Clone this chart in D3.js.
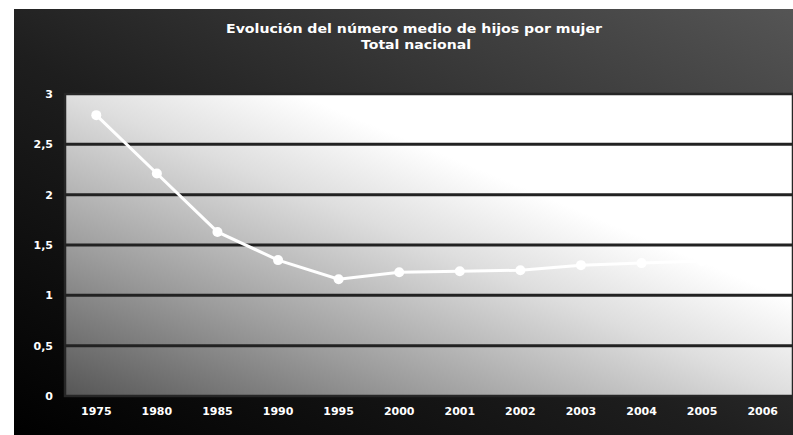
<!DOCTYPE html>
<html>
<head>
<meta charset="utf-8">
<script src="https://cdn.jsdelivr.net/npm/d3@7"></script>
<style>
  html, body { margin: 0; padding: 0; background: #ffffff; }
  svg { display: block; }
</style>
</head>
<body>
<script>
const titleLines = ["Evolución del número medio de hijos por mujer", "Total nacional"];
const years = ["1975", "1980", "1985", "1990", "1995", "2000", "2001", "2002", "2003", "2004", "2005", "2006"];
const hijos = [2.79, 2.21, 1.63, 1.35, 1.16, 1.23, 1.24, 1.25, 1.30, 1.32, 1.34, 1.37];
const yTicks = [0, 0.5, 1, 1.5, 2, 2.5, 3];
const yTickLabels = ["0", "0,5", "1", "1,5", "2", "2,5", "3"];

const W = 793, H = 435;
const svg = d3.select("body").append("svg").attr("width", W).attr("height", H);
const defs = svg.append("defs");

const bg = defs.append("linearGradient").attr("id", "bgGrad")
  .attr("x1", 0).attr("y1", 1).attr("x2", 1).attr("y2", 0);
bg.append("stop").attr("offset", 0).attr("stop-color", "#000000");
bg.append("stop").attr("offset", 0.45).attr("stop-color", "#1e1e1e");
bg.append("stop").attr("offset", 1).attr("stop-color", "#555555");

const pg = defs.append("linearGradient").attr("id", "plotGrad")
  .attr("x1", 0).attr("y1", 1).attr("x2", 1).attr("y2", 0);
pg.append("stop").attr("offset", 0).attr("stop-color", "#565656");
pg.append("stop").attr("offset", 0.25).attr("stop-color", "#9c9c9c");
pg.append("stop").attr("offset", 0.5).attr("stop-color", "#dedede");
pg.append("stop").attr("offset", 0.66).attr("stop-color", "#ffffff");
pg.append("stop").attr("offset", 1).attr("stop-color", "#ffffff");

const blur = defs.append("filter").attr("id", "soft").attr("x", "-10%").attr("y", "-10%").attr("width", "120%").attr("height", "120%");
blur.append("feGaussianBlur").attr("stdDeviation", 0.7);

// chart background
svg.append("rect").attr("x", 14).attr("y", 9).attr("width", W - 14).attr("height", H - 9)
  .attr("fill", "url(#bgGrad)");

const plot = { left: 65, right: 793, top: 94, bottom: 396 };
const x = d3.scaleBand().domain(years).range([plot.left + 1, plot.right]);
const y = d3.scaleLinear().domain([0, 3]).range([plot.bottom, plot.top]);

// plot area
svg.append("rect").attr("x", plot.left).attr("y", plot.top)
  .attr("width", plot.right - plot.left).attr("height", plot.bottom - plot.top)
  .attr("fill", "url(#plotGrad)")
  .attr("stroke", "#262626").attr("stroke-width", 2.5);

// gridlines
svg.append("g").attr("filter", "url(#soft)")
  .selectAll("line").data(yTicks.filter(d => d > 0 && d < 3)).join("line")
  .attr("x1", plot.left).attr("x2", plot.right)
  .attr("y1", d => y(d)).attr("y2", d => y(d))
  .attr("stroke", "#232323").attr("stroke-width", 3);

// Y axis labels
const yAxis = d3.axisLeft(y).tickValues(yTicks)
  .tickFormat((d, i) => yTickLabels[i]).tickSize(0).tickPadding(0);
const gy = svg.append("g").attr("transform", `translate(${53},0)`).call(yAxis);
gy.select(".domain").remove();
gy.selectAll("text").attr("fill", "#ffffff")
  .style("font-family", "'DejaVu Sans', sans-serif").style("font-weight", "bold").style("font-size", "11px");

// X axis labels
const xAxis = d3.axisBottom(x).tickSize(0).tickPadding(0);
const gx = svg.append("g").attr("transform", `translate(0,${407})`).call(xAxis);
gx.select(".domain").remove();
gx.selectAll("text").attr("fill", "#ffffff")
  .style("font-family", "'DejaVu Sans', sans-serif").style("font-weight", "bold").style("font-size", "11px");

// line
const pts = years.map((yr, i) => ({ yr, v: hijos[i] }));
const line = d3.line().x(d => x(d.yr) + x.bandwidth() / 2).y(d => y(d.v));
const lg = svg.append("g").attr("filter", "url(#soft)");
lg.append("path").datum(pts).attr("d", line)
  .attr("fill", "none").attr("stroke", "#ffffff").attr("stroke-width", 3);
lg.selectAll("circle").data(pts).join("circle")
  .attr("cx", d => x(d.yr) + x.bandwidth() / 2).attr("cy", d => y(d.v))
  .attr("r", 5).attr("fill", "#ffffff");

// title
const tg = svg.append("g").attr("fill", "#ffffff")
  .style("font-family", "'DejaVu Sans', sans-serif").style("font-weight", "bold");
tg.append("text").attr("x", 414).attr("y", 33).attr("text-anchor", "middle")
  .style("font-size", "12px").attr("textLength", 376).attr("lengthAdjust", "spacingAndGlyphs")
  .text(titleLines[0]);
tg.append("text").attr("x", 416).attr("y", 49).attr("text-anchor", "middle")
  .style("font-size", "12px").attr("textLength", 110).attr("lengthAdjust", "spacingAndGlyphs")
  .text(titleLines[1]);
</script>
</body>
</html>
